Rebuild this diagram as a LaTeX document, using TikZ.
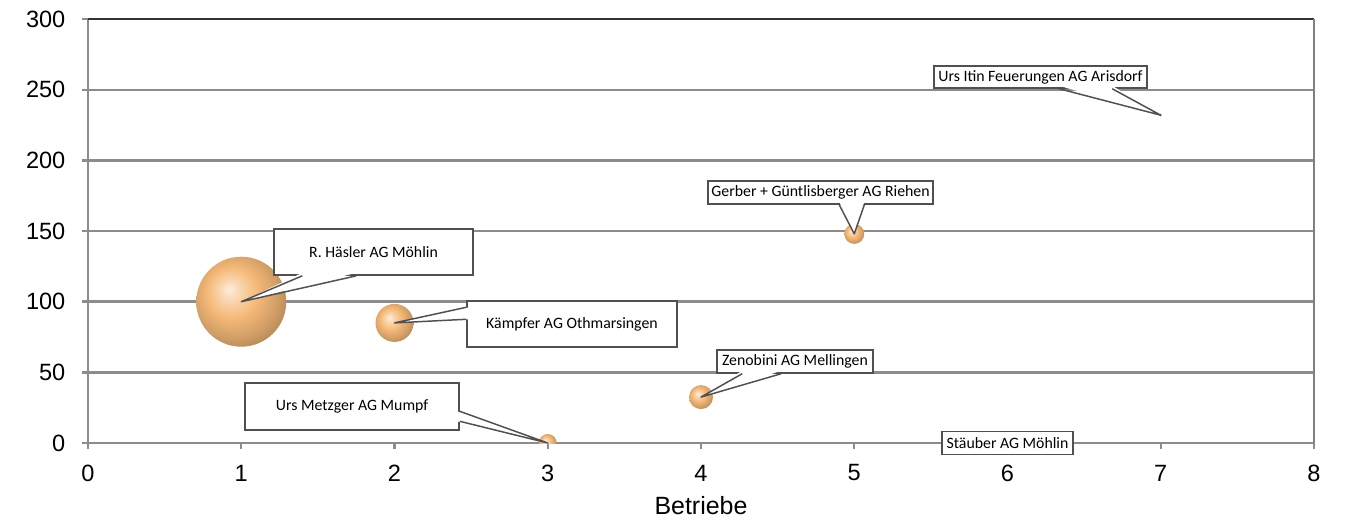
\documentclass[tikz,border=0pt]{standalone}
\usepackage{fontspec}
\setmainfont{Liberation Sans}
\newfontfamily\calfont{Carlito}
\usepackage{xcolor}
\usepackage{tikz}
\usetikzlibrary{positioning,calc}

\definecolor{gridgray}{RGB}{140,140,140}
\definecolor{boxgray}{RGB}{80,80,80}
\definecolor{topgray}{RGB}{50,50,50}
\definecolor{peachc}{RGB}{245,185,120}
\pgfdeclareradialshading{peach}{\pgfpoint{-7bp}{7bp}}{color(0bp)=(peachc!25!white); color(5bp)=(peachc!55!white); color(14bp)=(peachc); color(24bp)=(peachc!85!black); color(32bp)=(peachc!70!black); color(50bp)=(peachc!70!black)}

\tikzset{
	gridline/.style={draw=gridgray, line width=0.7pt},
	ylbl/.style={anchor=east, inner sep=0pt, font=\fontsize{6.7}{8}\selectfont},
	xlbl/.style={inner sep=0pt, font=\fontsize{6.7}{8}\selectfont},
	bub/.style={circle, inner sep=0pt, shading=peach},
	callbox/.style={draw=boxgray, fill=white, line width=0.42pt, inner sep=0pt, font=\calfont\fontsize{4.5}{5.5}\selectfont},
	callline/.style={draw=boxgray, line width=0.42pt, line join=round},
}

\begin{document}
\begin{tikzpicture}[x=1.5325cm, y=0.014133cm]
	\useasboundingbox (-0.88cm,-0.79cm) rectangle (12.63cm,4.43cm);

	\foreach \v in {0,50,...,300}{
		\draw[gridline] ([xshift=-0.06cm]0,\v) -- (8,\v);
		\node[ylbl] at ([xshift=-0.22cm]0,\v) {\v};
	}
	\foreach \i in {0,...,8}{
		\draw[gridline] (\i,0) -- ([yshift=-0.06cm]\i,0);
		\node[xlbl] at ([yshift=-0.30cm]\i,0) {\i};
	}
	\draw[gridline] (0,300) -- (0,0);
	\draw[draw=topgray, line width=0.7pt] (0,300) -- (8,300);
	\draw[draw=gray, line width=0.7pt] (8,300) -- (8,0);
	\node[xlbl, font=\fontsize{7.1}{8.5}\selectfont] (xtitle) at ([yshift=-0.63cm]4,0) {Betriebe};

	\begin{scope}
		\clip (0,0) rectangle (8,300);
		\node[bub, minimum size=0.9cm] (hasb) at (1,100) {};
		\node[bub, minimum size=0.38cm] (kamb) at (2,85) {};
		\node[bub, minimum size=0.18cm] (metb) at (3,0) {};
		\node[bub, minimum size=0.24cm] (zenb) at (4,32.5) {};
		\node[bub, minimum size=0.2cm] (gerb) at (5,148) {};
		\node[bub, minimum size=0.03cm] (itib) at (7,232) {};
	\end{scope}

	\node[callbox, minimum width=1.99cm, minimum height=0.46cm] (hasler) at (1.863,135.1) {R. Häsler AG Möhlin};
	\fill[white] ($(hasler.south west)+(0.29cm,0.03cm)$) -- (hasb.center) -- ($(hasler.south west)+(0.83cm,0.03cm)$) -- cycle;
	\draw[callline] ($(hasler.south west)+(0.29cm,0)$) -- (hasb.center) -- ($(hasler.south west)+(0.83cm,0)$);

	\node[callbox, minimum width=2.10cm, minimum height=0.46cm] (kaempfer) at (3.158,84.2) {Kämpfer AG Othmarsingen};
	\fill[white] ($(kaempfer.north west)+(0.03cm,-0.07cm)$) -- (kamb.center) -- ($(kaempfer.north west)+(0.03cm,-0.19cm)$) -- cycle;
	\draw[callline] ($(kaempfer.north west)+(0,-0.07cm)$) -- (kamb.center) -- ($(kaempfer.north west)+(0,-0.19cm)$);

	\node[callbox, minimum width=2.14cm, minimum height=0.47cm] (metzger) at (1.723,25.8) {Urs Metzger AG Mumpf};
	\fill[white] ($(metzger.north east)+(-0.03cm,-0.29cm)$) -- (metb.center) -- ($(metzger.north east)+(-0.03cm,-0.39cm)$) -- cycle;
	\draw[callline] ($(metzger.north east)+(0,-0.29cm)$) -- (metb.center) -- ($(metzger.north east)+(0,-0.39cm)$);

	\node[callbox, minimum width=2.25cm, minimum height=0.23cm] (gerber) at (4.780,177.2) {Gerber + Güntlisberger AG Riehen};
	\fill[white] ($(gerber.south west)+(1.32cm,0.03cm)$) -- (gerb.center) -- ($(gerber.south west)+(1.57cm,0.03cm)$) -- cycle;
	\draw[callline] ($(gerber.south west)+(1.32cm,0)$) -- (gerb.center) -- ($(gerber.south west)+(1.57cm,0)$);

	\node[callbox, minimum width=2.13cm, minimum height=0.22cm] (itin) at (6.215,259.0) {Urs Itin Feuerungen AG Arisdorf};
	\fill[white] ($(itin.south west)+(1.26cm,0.03cm)$) -- (itib.center) -- ($(itin.south west)+(1.79cm,0.03cm)$) -- cycle;
	\draw[callline] ($(itin.south west)+(1.26cm,0)$) -- (itib.center) -- ($(itin.south west)+(1.79cm,0)$);

	\node[callbox, minimum width=1.56cm, minimum height=0.23cm] (zenobini) at (4.613,57.7) {Zenobini AG Mellingen};
	\fill[white] ($(zenobini.south west)+(0.26cm,0.03cm)$) -- (zenb.center) -- ($(zenobini.south west)+(0.65cm,0.03cm)$) -- cycle;
	\draw[callline] ($(zenobini.south west)+(0.26cm,0)$) -- (zenb.center) -- ($(zenobini.south west)+(0.65cm,0)$);

	\node[callbox, minimum width=1.31cm, minimum height=0.23cm] (staeuber) at (6,0) {Stäuber AG Möhlin};
\end{tikzpicture}
\end{document}
